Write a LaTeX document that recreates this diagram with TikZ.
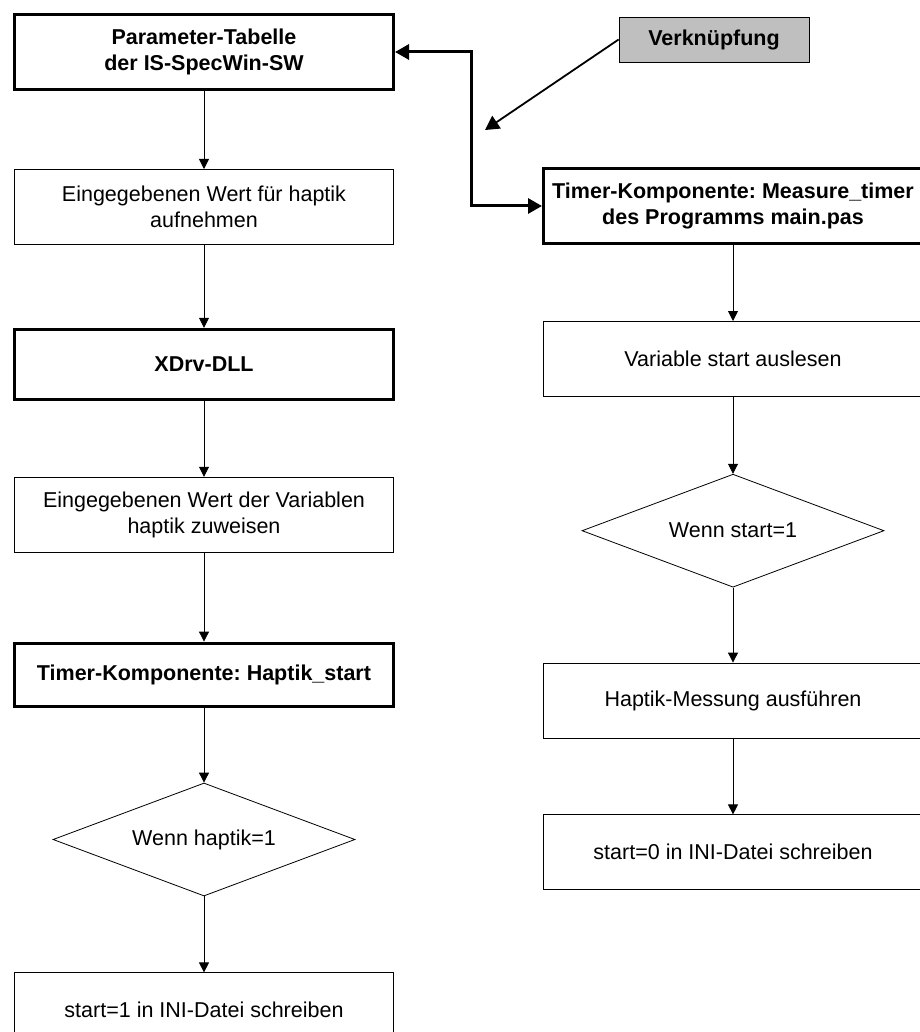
\documentclass[tikz,border=0pt]{standalone}
\usepackage{fontspec}
\setmainfont{Liberation Sans}
\frenchspacing
\usetikzlibrary{arrows.meta,positioning,shapes.geometric}
\tikzset{
  box/.style={draw=black, line width=0.8pt, fill=white, align=center,
    minimum width=379pt, minimum height=75pt, inner sep=4pt,
    font=\fontsize{21.5}{26}\selectfont},
  boldbox/.style={box, line width=3pt, font=\fontsize{21.5}{26}\selectfont\bfseries},
  linkbox/.style={box, fill=black!25, minimum width=190pt, minimum height=45pt,
    font=\fontsize{21.5}{26}\selectfont\bfseries},
  decision/.style={box, diamond, aspect=2.67, minimum width=302pt,
    minimum height=113pt, inner sep=0pt},
  arr/.style={-{Triangle[length=10pt,width=10pt]}, line width=0.8pt},
  thickarr/.style={{Triangle[length=14pt,width=15pt]}-{Triangle[length=14pt,width=15pt]},
    line width=3pt},
  linkarr/.style={-{Triangle[length=14pt,width=15pt]}, line width=1.8pt}
}
\begin{document}
\begin{tikzpicture}[x=1pt, y=-1pt]
  \useasboundingbox (0,0) rectangle (919,1032);

  % linke Spalte
  \node[boldbox] (param) at (204,52) {Parameter-Tabelle\\der IS-SpecWin-SW};
  \node[box, below=78pt of param] (aufn) {Eingegebenen Wert für haptik\\aufnehmen};
  \node[boldbox, below=83pt of aufn, minimum height=70pt] (xdrv) {XDrv-DLL};
  \node[box, below=76pt of xdrv] (zuw) {Eingegebenen Wert der Variablen\\haptik zuweisen};
  \node[boldbox, below=89pt of zuw, minimum height=63pt] (hstart) {Timer-Komponente: Haptik\_start};
  \node[decision, below=75pt of hstart] (wennh) {Wenn haptik=1};
  \node[box, below=76pt of wennh] (ini1) {start=1 in INI-Datei schreiben};

  % rechte Spalte
  \node[boldbox] (meas) at (733,206) {Timer-Komponente: Measure\_timer\\des Programms main.pas};
  \node[box, below=76pt of meas] (ausl) {Variable start auslesen};
  \node[decision, below=77pt of ausl] (wenns) {Wenn start=1};
  \node[box, below=75pt of wenns] (mess) {Haptik-Messung ausführen};
  \node[box, below=76pt of mess] (ini0) {start=0 in INI-Datei schreiben};

  % Verknuepfung
  \node[linkbox] (link) at (714,39.5) {Verknüpfung};
  \coordinate (linkend) at (485,130);

  \draw[arr] (param) -- (aufn);
  \draw[arr] (aufn) -- (xdrv);
  \draw[arr] (xdrv) -- (zuw);
  \draw[arr] (zuw) -- (hstart);
  \draw[arr] (hstart) -- (wennh);
  \draw[arr] (wennh) -- (ini1);

  \draw[arr] (meas) -- (ausl);
  \draw[arr] (ausl) -- (wenns);
  \draw[arr] (wenns) -- (mess);
  \draw[arr] (mess) -- (ini0);

  \draw[thickarr] (param.east) -- ++(76,0) |- (meas.west);
  \draw[linkarr] (link.west) -- (linkend);
\end{tikzpicture}
\end{document}
